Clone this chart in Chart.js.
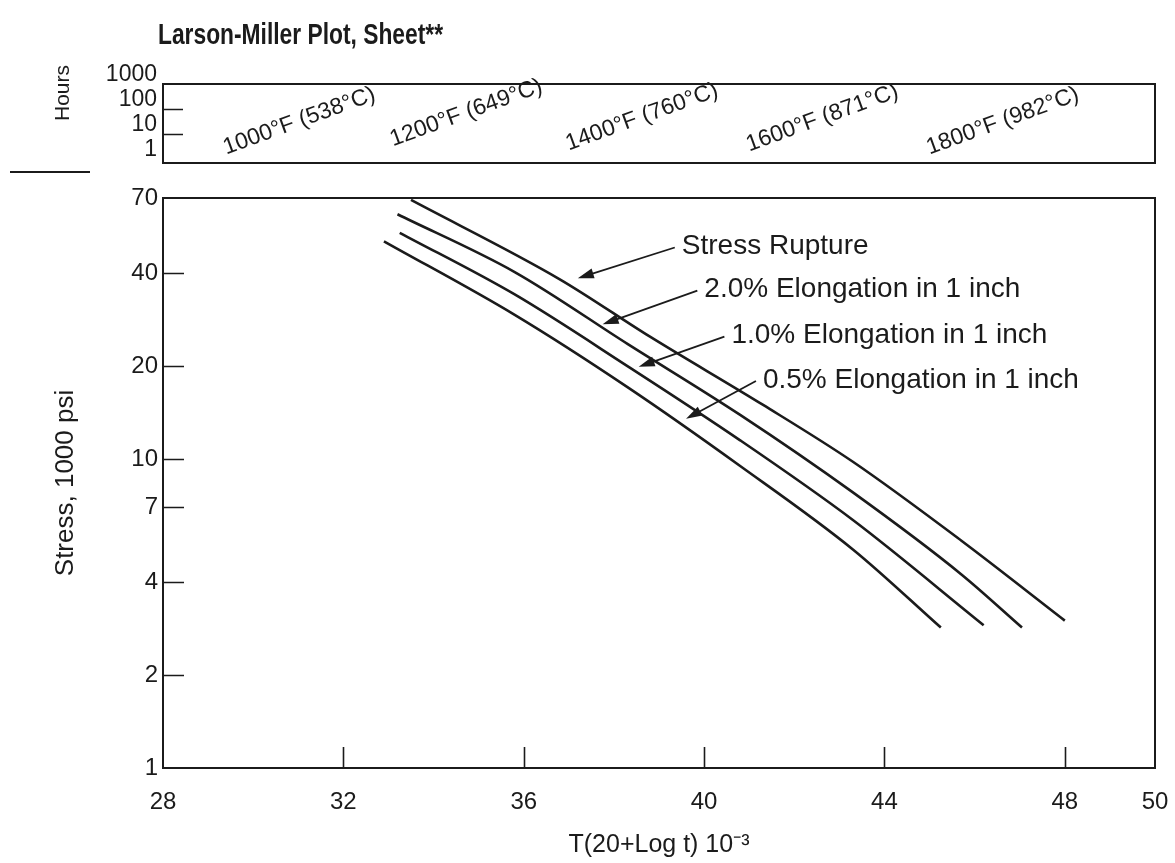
<!DOCTYPE html>
<html>
<head>
<meta charset="utf-8">
<title>Larson-Miller Plot, Sheet</title>
<script src="https://cdn.jsdelivr.net/npm/chart.js@4.4.1/dist/chart.umd.min.js"></script>
<style>
  html, body { margin: 0; padding: 0; background: #fff; }
  #wrap { position: relative; width: 1175px; height: 863px; }
  #hours-chart { position: absolute; left: 0; top: 0; }
  #stress-chart { position: absolute; left: 0; top: 175px; }
</style>
</head>
<body>
<div id="wrap">
  <canvas id="hours-chart" width="1175" height="175"></canvas>
  <canvas id="stress-chart" width="1175" height="688"></canvas>
</div>
<script>
const INK = '#1b1b1b';
const SANS = '"Liberation Sans", Arial, sans-serif';

// axes
const PARAM_TICKS = [28, 32, 36, 40, 44, 48, 50];
const STRESS_TICKS = [1, 2, 4, 7, 10, 20, 40, 70];
const HOURS_TICKS = [1, 10, 100, 1000];

// temperature labels of the hours strip, and where each one starts (parameter, hours)
const TEMP_F = [1000, 1200, 1400, 1600, 1800];
const TEMP_C = [538, 649, 760, 871, 982];
const TEMP_LABEL_PARAM = [29.4, 33.1, 37.0, 41.0, 45.0];
const TEMP_LABEL_HOURS = [1.5, 3.2, 2.2, 2.0, 1.5];

// curves: parameter T(20+log t)10^-3 vs stress (1000 psi)
const SERIES_NAMES = ['Stress Rupture', '2.0% Elongation in 1 inch', '1.0% Elongation in 1 inch', '0.5% Elongation in 1 inch'];
const RUPTURE_P       = [33.5, 36.8, 38.8, 41.3, 43.3, 45.7, 48.0];
const RUPTURE_STRESS  = [69, 38.2, 24.9, 15.0, 9.8, 5.45, 3.0];
const ELONG20_P       = [33.2, 35.8, 38.3, 40.8, 43.3, 45.7, 47.05];
const ELONG20_STRESS  = [62, 40.3, 23.6, 13.9, 7.8, 4.24, 2.85];
const ELONG10_P       = [33.25, 35.8, 38.3, 40.8, 43.3, 46.2];
const ELONG10_STRESS  = [54, 34.1, 20.0, 11.5, 6.35, 2.9];
const ELONG05_P       = [32.9, 35.8, 38.3, 40.8, 43.3, 45.25];
const ELONG05_STRESS  = [50.7, 29.3, 17.1, 9.5, 5.1, 2.85];

// callout arrows: from the label (tail) to the curve (tip)
const CALLOUT_FROM_P = [39.35, 39.85, 40.45, 41.15];
const CALLOUT_FROM_S = [48.4, 35.1, 24.9, 17.9];
const CALLOUT_TO_P   = [37.2, 37.75, 38.55, 39.6];
const CALLOUT_TO_S   = [38.5, 27.3, 19.9, 13.5];

function fixTicks(values) {
  return (scale) => { scale.ticks = values.map(v => ({ value: v })); };
}

function toPoints(xs, ys) {
  return xs.map((x, i) => ({ x: x, y: ys[i] }));
}

// the plot box is set by the layout padding, not by the tick labels
function noLabelPadding(scale) {
  scale.paddingTop = 0;
  scale.paddingBottom = 0;
  scale.paddingLeft = 0;
  scale.paddingRight = 0;
}

// box around the plot plus the short tick marks drawn inside it
const frameAndTicks = {
  id: 'frameAndTicks',
  afterDraw(chart, args, opts) {
    const ctx = chart.ctx;
    const a = chart.chartArea;
    ctx.save();
    ctx.strokeStyle = INK;
    ctx.lineWidth = 2;
    ctx.strokeRect(a.left, a.top, a.right - a.left, a.bottom - a.top);
    ctx.lineWidth = 1.6;
    ctx.beginPath();
    (opts.y || []).forEach(v => {
      const y = Math.round(chart.scales.y.getPixelForValue(v)) + 0.5;
      ctx.moveTo(a.left, y);
      ctx.lineTo(a.left + opts.len, y);
    });
    (opts.x || []).forEach(v => {
      const x = Math.round(chart.scales.x.getPixelForValue(v)) + 0.5;
      ctx.moveTo(x, a.bottom);
      ctx.lineTo(x, a.bottom - opts.len);
    });
    ctx.stroke();
    ctx.restore();
  }
};

const hoursExtras = {
  id: 'hoursExtras',
  afterDraw(chart) {
    const ctx = chart.ctx;
    const a = chart.chartArea;
    const xs = chart.scales.x, ys = chart.scales.y;
    ctx.save();
    ctx.fillStyle = INK;
    // sheet title, in a condensed bold face
    ctx.save();
    ctx.translate(a.left - 5, 36);
    ctx.scale(0.76, 1);
    ctx.font = 'bold 30px ' + SANS;
    ctx.textBaseline = 'middle';
    ctx.fillText('Larson-Miller Plot, Sheet**', 0, 0);
    ctx.restore();
    // "Hours" over a short bar
    ctx.save();
    ctx.translate(ys.left + 63, a.top + 9);
    ctx.rotate(-Math.PI / 2);
    ctx.font = '21px ' + SANS;
    ctx.textAlign = 'center';
    ctx.textBaseline = 'middle';
    ctx.fillText('Hours', 0, 0);
    ctx.restore();
    ctx.strokeStyle = INK;
    ctx.lineWidth = 2;
    ctx.beginPath();
    ctx.moveTo(ys.left + 10, a.bottom + 9);
    ctx.lineTo(ys.left + 90, a.bottom + 9);
    ctx.stroke();
    // slanted temperature labels
    ctx.font = '23px ' + SANS;
    ctx.textBaseline = 'alphabetic';
    TEMP_F.forEach((f, i) => {
      const x = xs.getPixelForValue(TEMP_LABEL_PARAM[i]);
      const y = ys.getPixelForValue(TEMP_LABEL_HOURS[i]);
      ctx.save();
      ctx.translate(x, y);
      ctx.rotate(-20 * Math.PI / 180);
      ctx.fillText(f + '\u00B0F (' + TEMP_C[i] + '\u00B0C)', 0, 0);
      ctx.restore();
    });
    ctx.restore();
  }
};

function drawArrow(ctx, x1, y1, x2, y2) {
  const ang = Math.atan2(y2 - y1, x2 - x1);
  const head = 16, half = 5;
  const c = Math.cos(ang), s = Math.sin(ang);
  ctx.beginPath();
  ctx.moveTo(x1, y1);
  ctx.lineTo(x2 - head * 0.7 * c, y2 - head * 0.7 * s);
  ctx.stroke();
  ctx.beginPath();
  ctx.moveTo(x2, y2);
  ctx.lineTo(x2 - head * c + half * s, y2 - head * s - half * c);
  ctx.lineTo(x2 - head * c - half * s, y2 - head * s + half * c);
  ctx.closePath();
  ctx.fill();
}

const callouts = {
  id: 'callouts',
  afterDatasetsDraw(chart) {
    const ctx = chart.ctx;
    const xs = chart.scales.x, ys = chart.scales.y;
    ctx.save();
    ctx.strokeStyle = INK;
    ctx.fillStyle = INK;
    ctx.lineWidth = 1.8;
    ctx.font = '28px ' + SANS;
    ctx.textBaseline = 'middle';
    SERIES_NAMES.forEach((name, i) => {
      const x1 = xs.getPixelForValue(CALLOUT_FROM_P[i]);
      const y1 = ys.getPixelForValue(CALLOUT_FROM_S[i]);
      const x2 = xs.getPixelForValue(CALLOUT_TO_P[i]);
      const y2 = ys.getPixelForValue(CALLOUT_TO_S[i]);
      drawArrow(ctx, x1, y1, x2, y2);
      ctx.fillText(name, x1 + 7, y1 - 1);
    });
    ctx.restore();
  }
};

new Chart(document.getElementById('hours-chart'), {
  type: 'scatter',
  data: { datasets: [] },
  plugins: [frameAndTicks, hoursExtras],
  options: {
    responsive: false,
    animation: false,
    devicePixelRatio: 1,
    layout: { padding: { top: 84, right: 20, bottom: 12, left: 0 } },
    plugins: {
      legend: { display: false },
      tooltip: { enabled: false },
      frameAndTicks: { y: [10, 100], len: 20 }
    },
    scales: {
      x: { type: 'linear', min: 28, max: 50, display: false },
      y: {
        type: 'logarithmic',
        min: 0.69,
        max: 1000,
        afterBuildTicks: fixTicks(HOURS_TICKS),
        afterFit: (s) => { s.width = 163; noLabelPadding(s); },
        grid: { display: false, drawTicks: false },
        border: { display: false },
        ticks: {
          color: INK,
          font: { family: SANS, size: 23 },
          padding: 6,
          labelOffset: -9,
          autoSkip: false,
          callback: (v) => String(v)
        }
      }
    }
  }
});

const lineStyle = {
  borderColor: INK,
  borderWidth: 2.6,
  pointRadius: 0,
  fill: false,
  cubicInterpolationMode: 'monotone'
};

new Chart(document.getElementById('stress-chart'), {
  type: 'line',
  data: {
    datasets: [
      Object.assign({ label: SERIES_NAMES[0], data: toPoints(RUPTURE_P, RUPTURE_STRESS) }, lineStyle),
      Object.assign({ label: SERIES_NAMES[1], data: toPoints(ELONG20_P, ELONG20_STRESS) }, lineStyle),
      Object.assign({ label: SERIES_NAMES[2], data: toPoints(ELONG10_P, ELONG10_STRESS) }, lineStyle),
      Object.assign({ label: SERIES_NAMES[3], data: toPoints(ELONG05_P, ELONG05_STRESS) }, lineStyle)
    ]
  },
  plugins: [frameAndTicks, callouts],
  options: {
    responsive: false,
    animation: false,
    devicePixelRatio: 1,
    layout: { padding: { top: 23, right: 20, bottom: 0, left: 0 } },
    plugins: {
      legend: { display: false },
      tooltip: { enabled: false },
      frameAndTicks: { y: [2, 4, 7, 10, 20, 40], x: [32, 36, 40, 44, 48], len: 21 }
    },
    scales: {
      x: {
        type: 'linear',
        min: 28,
        max: 50,
        afterBuildTicks: fixTicks(PARAM_TICKS),
        afterFit: (s) => { s.height = 95; noLabelPadding(s); },
        grid: { display: false, drawTicks: false },
        border: { display: false },
        ticks: {
          color: INK,
          font: { family: SANS, size: 24 },
          padding: 20,
          maxRotation: 0,
          autoSkip: false,
          callback: (v) => String(v)
        },
        title: {
          display: true,
          text: 'T(20+Log t) 10\u207B\u00B3',
          color: INK,
          font: { family: SANS, size: 25 },
          padding: { top: 0, bottom: 3 }
        }
      },
      y: {
        type: 'logarithmic',
        min: 1,
        max: 70,
        afterBuildTicks: fixTicks(STRESS_TICKS),
        afterFit: (s) => { s.width = 163; },
        grid: { display: false, drawTicks: false },
        border: { display: false },
        ticks: {
          color: INK,
          font: { family: SANS, size: 24 },
          padding: 5,
          autoSkip: false,
          callback: (v) => String(v)
        },
        title: {
          display: true,
          text: 'Stress, 1000 psi',
          color: INK,
          font: { family: SANS, size: 26 },
          padding: { top: 50, bottom: 0 }
        }
      }
    }
  }
});
</script>
</body>
</html>
